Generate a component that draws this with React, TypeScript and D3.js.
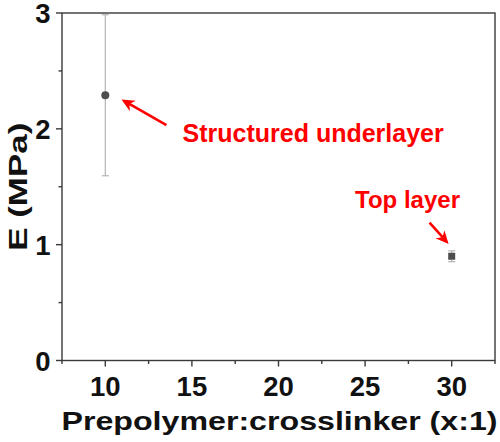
import React from "react";
import * as d3 from "d3";

const ratios = [10, 30];
const moduli = [2.29, 0.9];
const errors = [0.695, 0.047];
const markers = ["circle", "square"];
const xTicks = [10, 15, 20, 25, 30];
const xMinor = [7.5, 12.5, 17.5, 22.5, 27.5, 32.5];
const yTicks = [0, 1, 2, 3];
const yMinor = [0.5, 1.5, 2.5];
const noteTexts = ["Structured underlayer", "Top layer"];
const notePos = [
  { x: 14.46, y: 1.886 },
  { x: 24.42, y: 1.317 },
];
const arrowFrom = [
  { x: 13.53, y: 2.033 },
  { x: 28.72, y: 1.191 },
];
const arrowTo = [
  { x: 10.935, y: 2.253 },
  { x: 29.82, y: 1.006 },
];

const W = 500;
const H = 442;
const FONT = "'Liberation Sans', Arial, sans-serif";

export default function App() {
  const x = d3.scaleLinear().domain([7.5, 32.5]).range([62, 495]);
  const y = d3.scaleLinear().domain([0, 3]).range([360.5, 13]);
  const axisColor = "#3a3a3a";
  const [x0, x1] = x.range();
  const [y0, y1] = y.range();

  const arrow = (i: number) => {
    const fx = x(arrowFrom[i].x), fy = y(arrowFrom[i].y);
    const tx = x(arrowTo[i].x), ty = y(arrowTo[i].y);
    const ang = Math.atan2(ty - fy, tx - fx);
    const len = 13, hw = 6;
    const bx = tx - len * Math.cos(ang), by = ty - len * Math.sin(ang);
    const px = -Math.sin(ang), py = Math.cos(ang);
    const pts = [
      [tx, ty],
      [bx + hw * px, by + hw * py],
      [tx - 0.7 * len * Math.cos(ang), ty - 0.7 * len * Math.sin(ang)],
      [bx - hw * px, by - hw * py],
    ];
    return (
      <g key={"arrow" + i}>
        <line x1={fx} y1={fy} x2={tx - 6 * Math.cos(ang)} y2={ty - 6 * Math.sin(ang)} stroke="#ff0000" strokeWidth={2.6} />
        <polygon points={pts.map((p) => p.join(",")).join(" ")} fill="#ff0000" />
      </g>
    );
  };

  return (
    <svg
      width={W}
      height={H}
      style={{ position: "absolute", left: 0, top: 0, background: "#fff" }}
      fontFamily={FONT}
    >
      <rect x={0} y={0} width={W} height={H} fill="#fff" />
      {/* error bars */}
      {ratios.map((r, i) => {
        const cx = x(r);
        const hi = y(moduli[i] + errors[i]);
        const lo = y(moduli[i] - errors[i]);
        return (
          <g key={"err" + i} stroke="#b4b4b4" strokeWidth={1.2}>
            <line x1={cx} x2={cx} y1={hi} y2={lo} />
            <line x1={cx - 3.5} x2={cx + 3.5} y1={hi} y2={hi} />
            <line x1={cx - 3.5} x2={cx + 3.5} y1={lo} y2={lo} />
          </g>
        );
      })}
      {/* markers */}
      {ratios.map((r, i) =>
        markers[i] === "circle" ? (
          <circle key={"m" + i} cx={x(r)} cy={y(moduli[i])} r={4} fill="#4d4d4d" />
        ) : (
          <rect key={"m" + i} x={x(r) - 3.5} y={y(moduli[i]) - 3.5} width={7} height={7} fill="#4d4d4d" />
        )
      )}
      {/* frame */}
      <rect x={x0} y={y1} width={x1 - x0} height={y0 - y1} fill="none" stroke={axisColor} strokeWidth={1.4} />
      {/* x ticks */}
      {xTicks.map((t) => (
        <line key={"xt" + t} x1={x(t)} x2={x(t)} y1={y0} y2={y0 + 6} stroke={axisColor} strokeWidth={1.4} />
      ))}
      {xMinor.map((t) => (
        <line key={"xm" + t} x1={x(t)} x2={x(t)} y1={y0} y2={y0 + 3.5} stroke={axisColor} strokeWidth={1.4} />
      ))}
      {xTicks.map((t) => (
        <text key={"xl" + t} x={x(t)} y={396} textAnchor="middle" fontSize={27.5} fontWeight="bold" fill="#111">
          {t}
        </text>
      ))}
      {/* y ticks */}
      {yTicks.map((t) => (
        <line key={"yt" + t} x1={x0 - 6} x2={x0} y1={y(t)} y2={y(t)} stroke={axisColor} strokeWidth={1.4} />
      ))}
      {yMinor.map((t) => (
        <line key={"ym" + t} x1={x0 - 3.5} x2={x0} y1={y(t)} y2={y(t)} stroke={axisColor} strokeWidth={1.4} />
      ))}
      {yTicks.map((t) => (
        <text key={"yl" + t} x={50.5} y={y(t) + 10} textAnchor="end" fontSize={27.5} fontWeight="bold" fill="#111">
          {t}
        </text>
      ))}
      {/* axis titles */}
      <text
        x={(x0 + x1) / 2 + 1}
        y={430}
        textAnchor="middle"
        fontSize={26.5}
        fontWeight="bold"
        fill="#111"
        textLength={436}
        lengthAdjust="spacingAndGlyphs"
      >
        Prepolymer:crosslinker (x:1)
      </text>
      <text
        transform={`translate(27,${(y0 + y1) / 2}) rotate(-90)`}
        textAnchor="middle"
        fontSize={26.5}
        fontWeight="bold"
        fill="#111"
        textLength={128}
        lengthAdjust="spacingAndGlyphs"
      >
        E (MPa)
      </text>
      {/* annotations */}
      {noteTexts.map((t, i) => (
        <text key={"n" + i} x={x(notePos[i].x)} y={y(notePos[i].y)} fontSize={i === 0 ? 25 : 24} fontWeight="bold" fill="#ff0000">
          {t}
        </text>
      ))}
      {noteTexts.map((_, i) => arrow(i))}
    </svg>
  );
}
